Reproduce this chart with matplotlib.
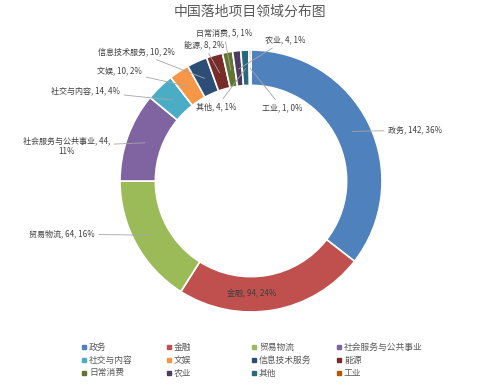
import numpy as np
import matplotlib
matplotlib.use("Agg")
import matplotlib.pyplot as plt
from matplotlib.patches import Rectangle

plt.rcParams['font.family'] = ['Noto Sans CJK SC', 'DejaVu Sans']

# data
sectors = ["政务", "金融", "贸易物流", "社会服务与公共事业", "社交与内容", "文娱",
           "信息技术服务", "能源", "日常消费", "农业", "其他", "工业"]
counts = [142, 94, 64, 44, 14, 10, 10, 8, 5, 4, 4, 1]
pcts = ["36%", "24%", "16%", "11%", "4%", "2%", "2%", "2%", "1%", "1%", "1%", "0%"]

COLOURS = ["#4F81BD", "#C0504D", "#9BBB59", "#8064A2", "#4BACC6", "#F79646",
           "#2C4D75", "#772C2A", "#5F7530", "#4D3B62", "#276A7C", "#B65708"]

W, H = 499, 386
CX, CY, R = 251, 181, 131          # ring centre / radius in pixels


def px(x, y):
    """pixel position (from top-left) -> data coords of the pie axes"""
    return (x - CX) / R, (CY - y) / R


fig = plt.figure(figsize=(W / 100, H / 100), dpi=100)
ax = fig.add_axes([0, 0, 1, 1])
wedges, _ = ax.pie(counts, colors=COLOURS, startangle=90, counterclock=False,
                   radius=1.0, wedgeprops=dict(width=0.27, edgecolor="white", lw=1.2))
ax.set_xlim(-CX / R, (W - CX) / R)
ax.set_ylim(-(H - CY) / R, CY / R)
ax.axis("off")

# label positions (pixel, text anchor) — small slices are pushed outward by hand
label_pos = {
    "政务":         (388, 130, "left",   True),
    "金融":         (252, 293, "center", False),
    "贸易物流":     (95, 234, "right",  True),
    "社会服务与公共事业": (110, 146, "right", True),
    "社交与内容":   (120, 91, "right",  True),
    "文娱":         (142, 71, "right",  True),
    "信息技术服务": (175, 52, "right",  True),
    "能源":         (224, 45, "right",  True),
    "日常消费":     (252, 33, "right",  True),
    "农业":         (265, 40, "left",   True),
    "其他":         (237, 107, "right", True),
    "工业":         (262, 108, "left",  True),
}

total = sum(counts)
cum = 0
for name, v, p in zip(sectors, counts, pcts):
    mid = np.deg2rad(90 - 360 * (cum + v / 2) / total)
    cum += v
    tx, ty, ha, line = label_pos[name]
    txt = f"{name}, {v}, {p}"
    if name == "社会服务与公共事业":
        txt = f"{name}, {v},\n{p}"
    r0 = 0.86
    kw = dict(arrowprops=dict(arrowstyle="-", color="#A6A6A6", lw=0.6,
                              shrinkA=1, shrinkB=0)) if line else {}
    ax.annotate(txt, xy=(r0 * np.cos(mid), r0 * np.sin(mid)), xytext=px(tx, ty),
                ha=ha, va="center", fontsize=5.8, color="#404040",
                multialignment="center", **kw)

fig.text(0.5, 1 - 12 / H, "中国落地项目领域分布图", ha="center", va="center",
         fontsize=10, color="#595959")

# legend, row-major, 4 columns
for i, (name, c) in enumerate(zip(sectors, COLOURS)):
    r, col = divmod(i, 4)
    x0 = 84 + 85 * col
    y0 = 347 + 13 * r
    fig.patches.append(Rectangle(((x0 - 2) / W, 1 - (y0 + 2) / H), 4 / W, 4 / H,
                                 transform=fig.transFigure, color=c, figure=fig))
    fig.text((x0 + 5) / W, 1 - y0 / H, name, ha="left", va="center",
             fontsize=6.3, color="#595959")

fig.savefig("out.png", dpi=100)
